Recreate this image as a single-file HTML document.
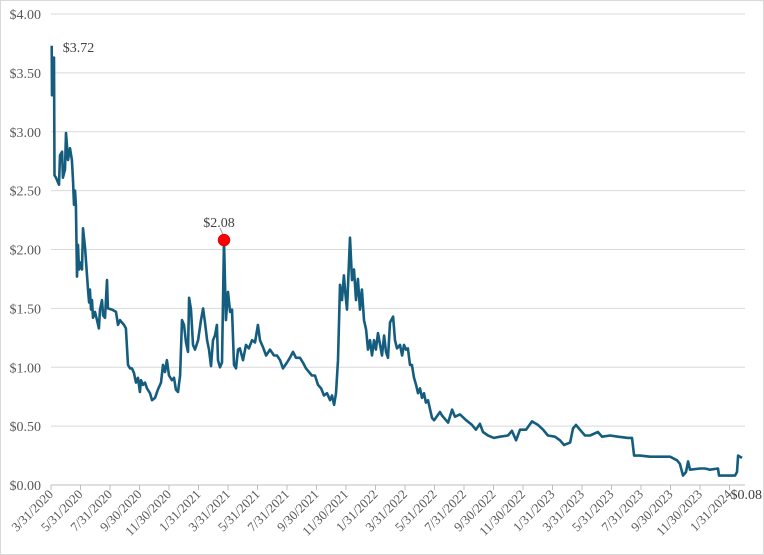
<!DOCTYPE html>
<html><head><meta charset="utf-8"><style>
html,body{margin:0;padding:0;background:#fff;}
svg{display:block;font-family:"Liberation Serif",serif;}
</style></head><body>
<svg id="chart" width="764" height="555" viewBox="0 0 764 555" xmlns="http://www.w3.org/2000/svg">
<rect x="0.5" y="0.5" width="763" height="554" fill="#fff" stroke="#d9d9d9"/>
<g id="grid"></g><g id="yaxis"></g><g id="xaxis"></g><g id="series"></g><g id="annot"></g>
</svg>
<script>
const monthOffsets=[0.05,0.07,0.14,0.2,0.24,0.34,0.54,0.61,0.75,0.81,0.95,1.02,1.08,1.15,1.29,1.42,1.49,1.56,1.63,1.69,1.76,1.83,1.9,2.03,2.1,2.17,2.31,2.44,2.51,2.58,2.64,2.71,2.78,2.85,2.98,3.12,3.25,3.32,3.46,3.53,3.66,3.8,3.86,4.14,4.41,4.54,4.68,4.81,4.95,5.08,5.22,5.36,5.49,5.63,5.76,5.9,6.03,6.1,6.24,6.37,6.51,6.71,6.85,7.05,7.25,7.46,7.59,7.73,7.86,8.0,8.2,8.34,8.47,8.61,8.75,8.88,9.02,9.15,9.29,9.36,9.49,9.63,9.76,9.97,10.17,10.31,10.44,10.58,10.71,10.85,10.98,11.12,11.25,11.32,11.46,11.59,11.73,11.86,12.0,12.14,12.27,12.41,12.54,12.68,12.81,13.02,13.22,13.42,13.63,13.83,14.03,14.17,14.37,14.58,14.85,15.12,15.32,15.53,15.73,16.0,16.2,16.41,16.61,16.88,17.08,17.29,17.49,17.69,17.9,18.1,18.31,18.51,18.71,18.92,19.05,19.19,19.32,19.46,19.59,19.73,19.86,19.93,20.07,20.27,20.41,20.54,20.68,20.81,20.95,21.08,21.22,21.36,21.49,21.63,21.76,21.9,22.03,22.17,22.31,22.44,22.58,22.71,22.85,22.98,23.19,23.32,23.46,23.66,23.8,23.93,24.07,24.2,24.34,24.47,24.61,24.75,24.88,25.02,25.15,25.29,25.42,25.56,25.83,25.97,26.37,26.51,26.78,26.92,27.19,27.39,27.73,28.14,28.54,28.81,29.08,29.29,29.63,30.03,30.44,30.98,31.25,31.53,31.8,32.2,32.61,33.02,33.36,33.69,34.17,34.51,34.78,35.19,35.39,35.59,35.86,36.2,36.54,37.08,37.36,37.9,38.44,39.12,39.39,39.53,39.93,40.61,41.97,42.44,42.64,42.85,43.05,43.19,43.32,44.0,44.34,44.68,45.22,45.29,46.37,46.51,46.58,46.71,46.85];
const prices=[3.73,3.31,3.61,3.63,2.63,2.61,2.55,2.8,2.83,2.61,2.68,2.99,2.89,2.76,2.86,2.76,2.59,2.38,2.5,2.38,1.77,2.04,1.83,1.89,1.83,2.18,2.01,1.78,1.66,1.55,1.66,1.49,1.57,1.42,1.47,1.40,1.33,1.49,1.57,1.44,1.42,1.74,1.50,1.49,1.47,1.36,1.40,1.38,1.36,1.33,1.02,0.99,0.99,0.95,0.87,0.91,0.79,0.89,0.85,0.87,0.82,0.78,0.72,0.74,0.81,0.87,1.02,0.96,1.06,0.93,0.89,0.91,0.81,0.79,0.93,1.40,1.36,1.21,1.13,1.59,1.49,1.19,1.15,1.23,1.40,1.50,1.38,1.23,1.15,1.01,1.23,1.27,1.36,1.06,1.00,1.04,2.08,1.40,1.64,1.47,1.49,1.02,0.99,1.15,1.16,1.06,1.19,1.16,1.23,1.21,1.36,1.23,1.17,1.10,1.15,1.10,1.10,1.06,0.99,1.04,1.08,1.13,1.08,1.08,1.04,0.99,0.96,0.93,0.93,0.85,0.82,0.76,0.78,0.72,0.76,0.68,0.78,1.06,1.70,1.57,1.78,1.66,1.49,2.10,1.74,1.83,1.57,1.75,1.49,1.66,1.40,1.32,1.15,1.23,1.10,1.23,1.15,1.29,1.19,1.10,1.27,1.13,1.08,1.38,1.43,1.23,1.16,1.19,1.10,1.19,1.15,1.16,1.02,1.02,0.91,0.85,0.78,0.82,0.74,0.78,0.70,0.72,0.57,0.55,0.62,0.59,0.55,0.53,0.64,0.58,0.60,0.55,0.51,0.47,0.52,0.45,0.42,0.40,0.41,0.42,0.46,0.38,0.47,0.47,0.54,0.51,0.47,0.42,0.41,0.38,0.34,0.36,0.48,0.51,0.47,0.42,0.42,0.45,0.41,0.42,0.41,0.40,0.40,0.25,0.25,0.24,0.24,0.21,0.18,0.08,0.11,0.20,0.13,0.14,0.14,0.13,0.14,0.08,0.08,0.11,0.25,0.24,0.23];
const yTicks=[0,0.5,1,1.5,2,2.5,3,3.5,4];
const xTickLabels=["3/31/2020","5/31/2020","7/31/2020","9/30/2020","11/30/2020","1/31/2021","3/31/2021","5/31/2021","7/31/2021","9/30/2021","11/30/2021","1/31/2022","3/31/2022","5/31/2022","7/31/2022","9/30/2022","11/30/2022","1/31/2023","3/31/2023","5/31/2023","7/31/2023","9/30/2023","11/30/2023","1/31/2024"];
const xTickMonths=[0,2,4,6,8,10,12,14,16,18,20,22,24,26,28,30,32,34,36,38,40,42,44,46];

const NS="http://www.w3.org/2000/svg";
const X0=51,PXM=14.75,Y0=485,PXV=117.75,XR=745;
const xs=m=>X0+m*PXM, ys=v=>Y0-v*PXV;
function mk(t,a,p){const e=document.createElementNS(NS,t);for(const k in a)e.setAttribute(k,a[k]);p.appendChild(e);return e;}
const grid=document.getElementById('grid'),ya=document.getElementById('yaxis'),xa=document.getElementById('xaxis'),se=document.getElementById('series'),an=document.getElementById('annot');
yTicks.forEach(v=>{
  const l=mk('line',{x1:X0,x2:XR,y1:ys(v),y2:ys(v),stroke:'#d9d9d9','stroke-width':1},grid);
  
  
  const t=mk('text',{x:41,y:ys(v)+5,'text-anchor':'end','font-size':14,fill:'#595959'},ya);
  t.textContent='$'+v.toFixed(2);
  
  
});
const ax=mk('line',{x1:X0,x2:XR,y1:Y0,y2:Y0,stroke:'#bfbfbf','stroke-width':1},xa);


xTickMonths.forEach((m,i)=>{
  const x=xs(m);
  const tk=mk('line',{x1:x,x2:x,y1:Y0,y2:Y0+5,stroke:'#bfbfbf'},xa);
  
  
  const t=mk('text',{x:x+3,y:Y0+10,'text-anchor':'end','font-size':13,fill:'#595959',transform:`rotate(-45 ${x+3} ${Y0+10})`},xa);
  t.textContent=xTickLabels[i];
  
  
});
const d=monthOffsets.map((m,i)=>(i?'L':'M')+xs(m).toFixed(1)+' '+ys(prices[i]).toFixed(1)).join(' ');
const p=mk('path',{d:d,fill:'none',stroke:'#155d7e','stroke-width':2.6,'stroke-linejoin':'round'},se);


// annotations
const iMax=0, iPeak=prices.indexOf(2.08), iLast=prices.length-1;
const a1=mk('text',{x:xs(monthOffsets[iMax])+11,y:ys(prices[iMax])+6,'font-size':14,fill:'#404040'},an);
a1.textContent='$3.72';


const px=xs(monthOffsets[iPeak]),py=ys(prices[iPeak]);
const ld=mk('line',{x1:px-4,y1:py-12,x2:px,y2:py-3,stroke:'#999','stroke-width':1},an);


const dot=mk('circle',{cx:px,cy:py,r:6,fill:'#ff0000',stroke:'#c00000','stroke-width':0.5},an);


const a2=mk('text',{x:px-5,y:py-13,'text-anchor':'middle','font-size':14,fill:'#404040'},an);
a2.textContent='$2.08';


const a3=mk('text',{x:762,y:ys(0)+14,'text-anchor':'end','font-size':14,fill:'#404040'},an);
a3.textContent='$0.08';


</script>
</body></html>
